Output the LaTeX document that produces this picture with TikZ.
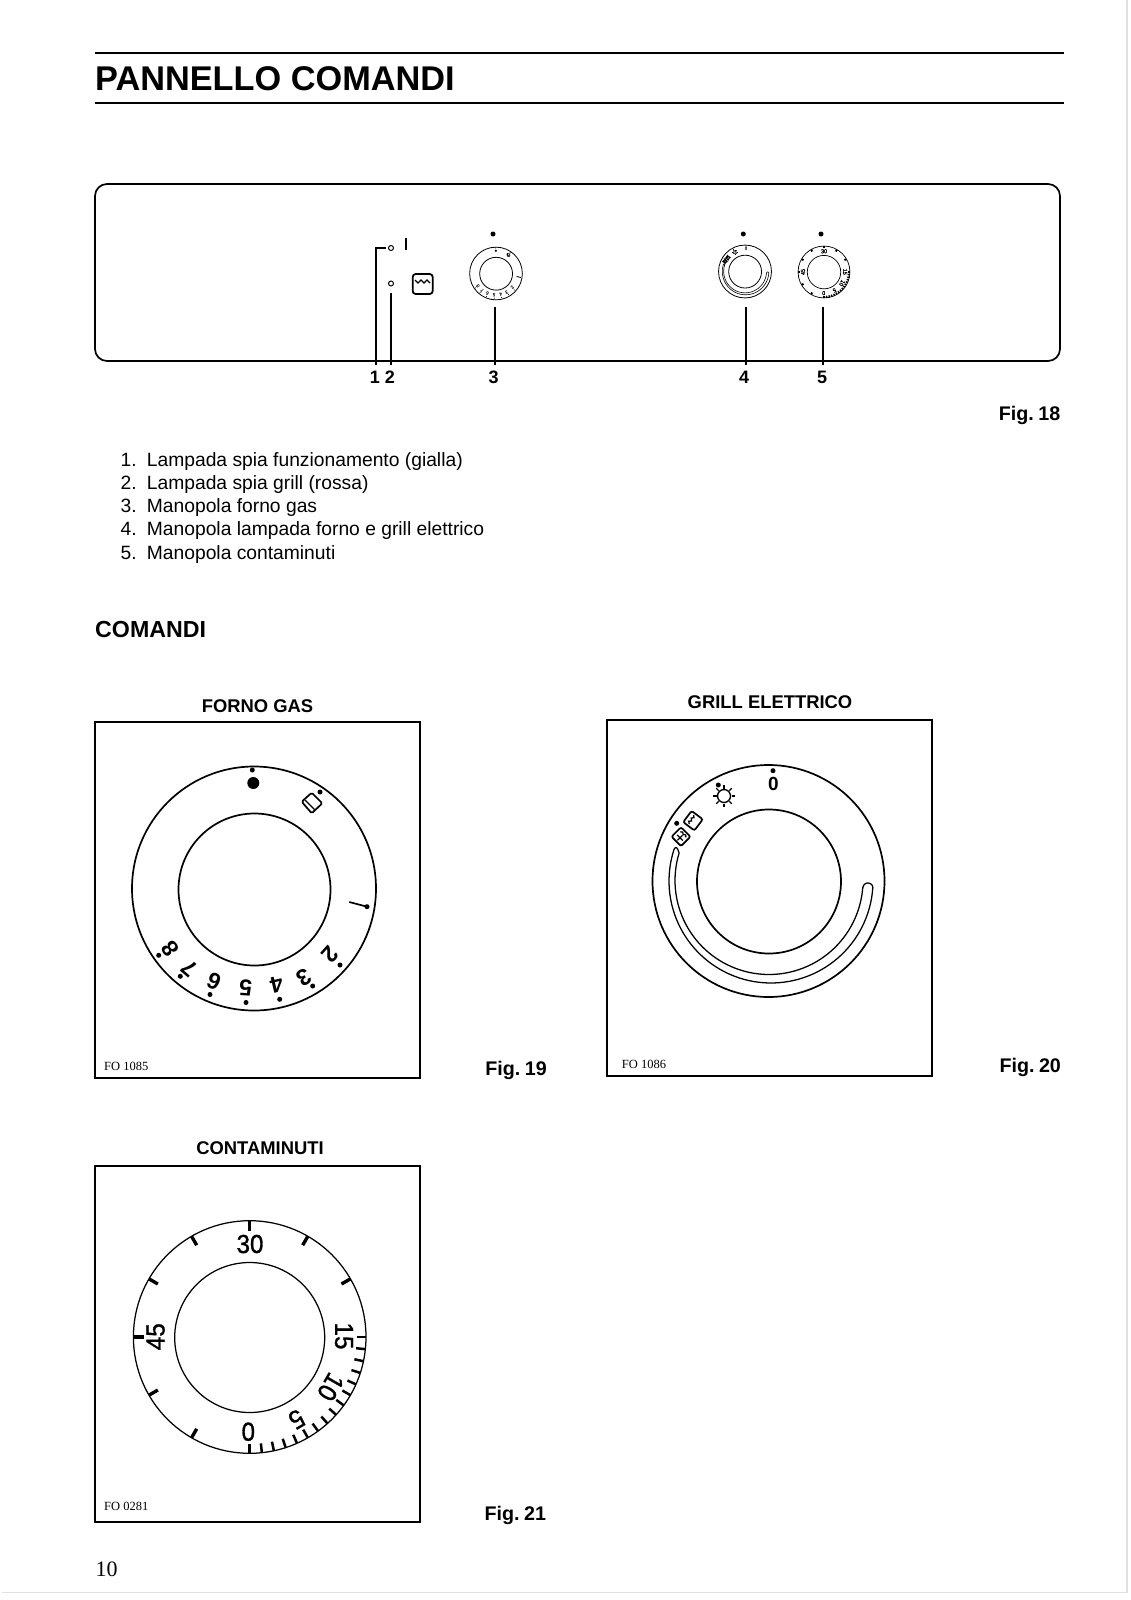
\documentclass[tikz,border=0pt]{standalone}
\usepackage{fontspec}
\setmainfont{Liberation Sans}
\newfontfamily\tmsfont{Liberation Serif}
\newfontfamily\dialfont[FakeBold=1.2]{Liberation Sans}
\tikzset{
  rulethick/.style={line width=2pt,black},
  panelline/.style={line width=1.7pt,black},
  leader/.style={line width=1.8pt,black},
  figbox/.style={draw=black,line width=2pt,fill=none},
  titletext/.style={anchor=base west,inner sep=0,font=\bfseries\fontsize{34.3}{35}\selectfont},
  headtext/.style={anchor=base west,inner sep=0,font=\bfseries\fontsize{23.2}{24}\selectfont},
  subhead/.style={anchor=base,inner sep=0,font=\bfseries\fontsize{18.4}{20}\selectfont},
  figlabel/.style={anchor=base,inner sep=0,font=\bfseries\fontsize{19.7}{20}\selectfont},
  numlabel/.style={anchor=base,inner sep=0,font=\bfseries\fontsize{18}{20}\selectfont},
  bodytext/.style={anchor=base west,inner sep=0,font=\fontsize{19.26}{21}\selectfont},
  codetext/.style={anchor=base west,inner sep=0,font=\tmsfont\fontsize{12.5}{13}\selectfont},
  pagenum/.style={anchor=base west,inner sep=0,font=\tmsfont\fontsize{22}{23}\selectfont},
  gasdigit/.style={inner sep=0,font=\bfseries\fontsize{23}{24}\selectfont},
  timerdigit/.style={inner sep=0,font=\dialfont\fontsize{26}{28}\selectfont},
  pageedge/.style={line width=1.3pt,black!12},
}
% #1 name prefix, #2 cx, #3 cy, #4 scale, #5 line width
\newcommand{\gasdial}[5]{%
\begin{scope}[shift={(#2,#3)},scale=#4,transform shape,line width=#5]
  \draw (0,0) circle[radius=122pt];
  \draw (0.5,1) circle[radius=76pt];
  \fill (-1.7,-118.5) circle[radius=2.5pt];
  \fill (-0.7,-105.5) circle[radius=6pt];
  \fill (66,-96.5) circle[radius=2.5pt];
  \draw[rounded corners=1.5pt] (47.7,-86.8) -- (57.7,-95.8) -- (68.3,-85.2) -- (57.7,-75.2) -- cycle;
  \draw[line width=.7*#5] (51,-88.5) -- (61,-78.5);
  \fill (113,18.2) circle[radius=2.5pt];
  \draw (95.3,13.5) -- (113,18.2);
  \foreach \dg/\px/\py/\qx/\qy/\rr in {2/76.7/66.5/86/76.5/-131.6,3/50.3/88.8/58.7/97.5/-149,4/22.7/96.5/25.7/110.8/-167,5/-8.3/99.8/-8/114/176,6/-40/93.2/-44/106/157.5,7/-64/79.8/-73.7/87.8/140,8/-84/59.8/-95.3/66.8/125}{
    \node[gasdigit,rotate=\rr] (#1d\dg) at (\px,\py) {\dg};
    \fill (\qx,\qy) circle[radius=2.5pt];
  }
\end{scope}}
\newcommand{\grilldial}[5]{%
\begin{scope}[shift={(#2,#3)},scale=#4,transform shape,line width=#5]
  \draw (0,0) circle[radius=116pt];
  \draw (0.5,0.5) circle[radius=72pt];
  \node[inner sep=0,font=\bfseries\fontsize{19}{20}\selectfont] (#1zero) at (4.8,-97) {0};
  \fill (4.5,-110.3) circle[radius=2.5pt];
  % lamp
  \draw[line width=.8*#5] (-44.5,-85) circle[radius=6.5pt];
  \foreach \aa in {0,45,...,315}{
    \draw[line width=.8*#5] ({-44.5+7.5*cos(\aa)},{-85+7.5*sin(\aa)}) -- ({-44.5+11*cos(\aa)},{-85+11*sin(\aa)});
  }
  \fill (-50.2,-96) circle[radius=2.5pt];
  % grill symbol
  \begin{scope}[shift={(-75.5,-60.3)},rotate=-37]
    \draw[rounded corners=2pt] (-7,-7) rectangle (7,7);
    \draw[line width=.75*#5] (-3,-5) -- (-1,-3) -- (-3,-1) -- (-1,1) -- (-3,3) -- (-1,5);
  \end{scope}
  % grill + fan symbol
  \begin{scope}[shift={(-87.5,-44.3)},rotate=-45]
    \draw[rounded corners=2pt] (-6.7,-6.7) rectangle (6.7,6.7);
    \draw[line width=.75*#5] (-4,-3) -- (-2,-4.5) -- (0,-3) -- (2,-4.5) -- (4,-3);
    \draw[line width=.75*#5] (0,-2) -- (0,5) (-4,1.5) -- (4,1.5);
  \end{scope}
  \fill (-91.8,-57.7) circle[radius=2.5pt];
  % slot
  \draw[line join=round,line width=.75*#5] plot[domain=4:197,samples=70] ({0.5+94*cos(\x)},{-0.5+94*sin(\x)})
     .. controls (-91,-34) and (-93,-35) .. ({2.5+102*cos(198)},{102*sin(198)})
     -- plot[domain=198:4,samples=70] ({2.5+102*cos(\x)},{102*sin(\x)})
     -- plot[domain=0:-180,samples=16] ({99.4+5*cos(\x)},{7+5*sin(\x)});
\end{scope}}
\newcommand{\timerdial}[5]{%
\begin{scope}[shift={(#2,#3)},scale=#4,transform shape,line width=#5]
  \draw (0,0) circle[radius=116.3pt];
  \draw (0,0.5) circle[radius=75pt];
  \foreach \aa in {120,150,...,330}{
    \draw[line width=2.7*#5] ({116*cos(\aa)},{116*sin(\aa)}) -- ({106*cos(\aa)},{106*sin(\aa)});
  }
  \foreach \aa in {0,6,...,90}{
    \draw[line width=2*#5] ({116*cos(\aa)},{116*sin(\aa)}) -- ({107*cos(\aa)},{107*sin(\aa)});
  }
  \node[timerdigit,xscale=.93] (#1t30) at (0.3,-93) {30};
  \node[timerdigit,rotate=90,xscale=.93] (#1t45) at (-94,-0.3) {45};
  \node[timerdigit,rotate=-90,xscale=.93] (#1t15) at (94.3,-1) {15};
  \node[timerdigit,rotate=-120,xscale=.93] (#1t10) at (81,50) {10};
  \node[timerdigit,rotate=-150,xscale=.93] (#1t5) at (47,82.3) {5};
  \node[timerdigit,rotate=180,xscale=.93] (#1t0) at (-1.4,94.7) {0};
\end{scope}}
\begin{document}
\begin{tikzpicture}[x=1pt,y=-1pt]
\useasboundingbox (0,0) rectangle (1131,1600);
\fill[white] (0,0) rectangle (1131,1600);
% page edge
\coordinate (edgeA) at (2,1592.5); \coordinate (edgeB) at (1127,1592.5); \coordinate (edgeC) at (1127,0);
\draw[pageedge] (edgeA) -- (edgeB);
\draw[pageedge] (edgeB) -- (edgeC);
% header
\coordinate (ruleAa) at (95,52.7); \coordinate (ruleAb) at (1064,52.7);
\coordinate (ruleBa) at (95,102.7); \coordinate (ruleBb) at (1064,102.7);
\draw[rulethick] (ruleAa) -- (ruleAb);
\draw[rulethick] (ruleBa) -- (ruleBb);
\node[titletext] (title) at (95,91) {PANNELLO COMANDI};
% panel
\draw[panelline,rounded corners=12pt] (95,184) rectangle (1060,361);
\node[inner sep=0,fill=black,minimum width=2.4pt,minimum height=12pt] (lampI) at (405.7,244) {};
\node[circle,draw=black,line width=1pt,inner sep=0,minimum size=5pt] (lampa) at (391,248) {};
\node[circle,draw=black,line width=1pt,inner sep=0,minimum size=5pt] (lampb) at (391,283.5) {};
\draw[line width=1.8pt,rounded corners=3pt] (412.7,274) rectangle (432.7,294);
\draw[line width=1.4pt] (415,280) -- (418,283) -- (421,280) -- (424,283) -- (427,280) -- (430,283);
\gasdial{m}{496}{273.5}{.216}{.8pt}
\grilldial{g}{745}{271.5}{.228}{.8pt}
\timerdial{c}{824}{272}{.223}{.7pt}
\node[circle,fill=black,inner sep=0,minimum size=5pt] (dotA) at (493,234) {};
\node[circle,fill=black,inner sep=0,minimum size=5pt] (dotB) at (743.3,234) {};
\node[circle,fill=black,inner sep=0,minimum size=5pt] (dotC) at (821,234) {};
% leaders
\coordinate (la) at (376,365); \coordinate (lb) at (391,365); \coordinate (lc) at (495,365); \coordinate (ld) at (745.7,365); \coordinate (le) at (823.3,365);
\coordinate (ua) at (376,248); \coordinate (uaa) at (386,248); \coordinate (ub) at (391,293); \coordinate (uc) at (495,306.7); \coordinate (ud) at (745.7,306.7); \coordinate (ue) at (823.3,306.7);
\draw[leader] (la) -- (ua) -- (uaa);
\draw[leader] (lb) -- (ub);
\draw[leader] (lc) -- (uc);
\draw[leader] (ld) -- (ud);
\draw[leader] (le) -- (ue);
\node[numlabel] (n1) at (375,383.5) {1};
\node[numlabel] (n2) at (390,383.5) {2};
\node[numlabel] (n3) at (493.5,383.5) {3};
\node[numlabel] (n4) at (744,383.5) {4};
\node[numlabel] (n5) at (822,383.5) {5};
\node[figlabel] (f18) at (1029.5,420) {Fig.\hspace{4.5pt}18};
% list
\foreach \nn/\yy/\tt in {1/466/Lampada spia funzionamento (gialla),2/489.3/Lampada spia grill (rossa),3/512.6/Manopola forno gas,4/535.9/Manopola lampada forno e grill elettrico,5/559/Manopola contaminuti}{
  \node[bodytext] (num\nn) at (120.5,\yy) {\nn.};
  \node[bodytext] (item\nn) at (146.7,\yy) {\tt};
}
\node[headtext] (comandi) at (95,637.5) {COMANDI};
% fig 19
\node[subhead] (hgas) at (257.5,712) {FORNO GAS};
\draw[figbox] (95,721.7) rectangle (420,1078.3);
\gasdial{a}{254}{888.5}{1}{1.7pt}
\node[codetext] (cgas) at (104,1070.5) {FO 1085};
\node[figlabel] (f19) at (516,1075) {Fig.\hspace{4.5pt}19};
% fig 20
\node[subhead] (hgrill) at (770,708) {GRILL ELETTRICO};
\draw[figbox] (606.7,719.5) rectangle (931.7,1076);
\grilldial{b}{768.5}{881}{1}{1.7pt}
\node[codetext] (cgrill) at (621.7,1068) {FO 1086};
\node[figlabel] (f20) at (1030.2,1072) {Fig.\hspace{4.5pt}20};
% fig 21
\node[subhead] (htimer) at (260,1154.5) {CONTAMINUTI};
\draw[figbox] (95,1165.5) rectangle (420,1522);
\timerdial{z}{249.7}{1337}{1}{1.25pt}
\node[codetext] (ctimer) at (104,1510.5) {FO 0281};
\node[figlabel] (f21) at (515.4,1520.5) {Fig.\hspace{4.5pt}21};
% page number
\node[pagenum] (page) at (95.5,1576) {10};
\end{tikzpicture}
\end{document}
